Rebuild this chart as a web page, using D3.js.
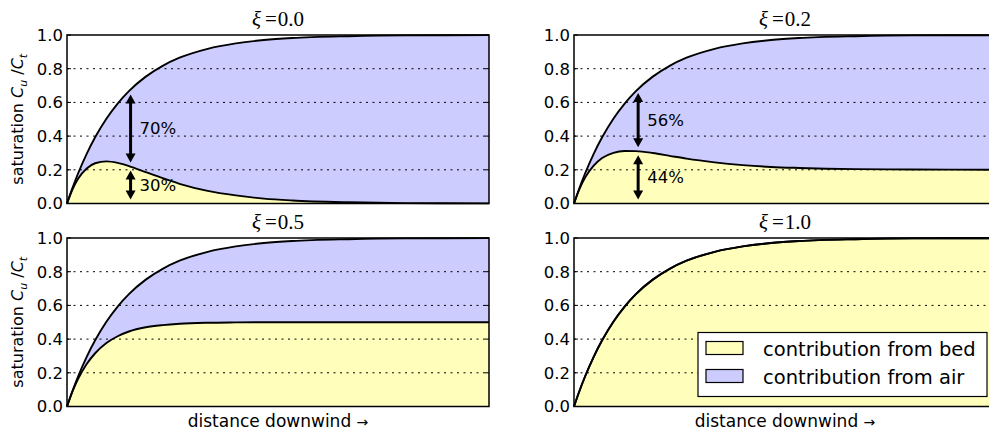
<!DOCTYPE html>
<html>
<head>
<meta charset="utf-8">
<script src="https://cdn.jsdelivr.net/npm/d3@7"></script>
<style>
  body { margin: 0; background: #fff; }
  text { font-family: "DejaVu Sans", sans-serif; fill: #000; }
</style>
</head>
<body>
<script>
// distance downwind (arbitrary units) and saturation
var dist     = [0, 0.1, 0.2, 0.35, 0.5, 0.7, 0.9, 1.1, 1.4, 1.7, 2.0, 2.5, 3.0, 3.5, 4.0, 5.0, 6.0, 7.5];
var totalSat = [0, 0.095, 0.181, 0.295, 0.393, 0.503, 0.593, 0.667, 0.753, 0.817, 0.865, 0.918, 0.950, 0.970, 0.982, 0.993, 0.998, 0.999];
var bedXi00  = [0, 0.086, 0.148, 0.208, 0.239, 0.250, 0.241, 0.222, 0.186, 0.150, 0.117, 0.075, 0.048, 0.029, 0.018, 0.007, 0.002, 0.001];
var bedXi02  = [0, 0.088, 0.155, 0.225, 0.270, 0.301, 0.312, 0.311, 0.300, 0.283, 0.266, 0.244, 0.228, 0.217, 0.211, 0.204, 0.202, 0.200];
var bedXi05  = [0, 0.091, 0.165, 0.252, 0.316, 0.377, 0.417, 0.445, 0.470, 0.483, 0.491, 0.497, 0.499, 0.500, 0.500, 0.500, 0.500, 0.500];
var bedXi10  = [0, 0.095, 0.181, 0.295, 0.393, 0.503, 0.593, 0.667, 0.753, 0.817, 0.865, 0.918, 0.950, 0.970, 0.982, 0.993, 0.998, 0.999];

var xiLabels = ["0.0", "0.2", "0.5", "1.0"];
var yTicks = [0, 0.2, 0.4, 0.6, 0.8, 1.0];
var legendLabels = ["contribution from bed", "contribution from air"];

// share arrows (only in the first two panels)
var arrowDist  = [1.13, 1.14];
var arrowTotal = [0.67, 0.68];
var arrowBed   = [0.22, 0.31];
var airShare   = ["70%", "56%"];
var bedShare   = ["30%", "44%"];

var bedColor = "#ffffbb", airColor = "#ccccff";

var W = 989, H = 433;
var axW = 422, axH = 168.5;
var colX = [67, 574], rowY = [35, 238];

var svg = d3.select("body").append("svg")
    .attr("width", W)
    .attr("height", H);

var beds = [bedXi00, bedXi02, bedXi05, bedXi10];

var x = d3.scaleLinear().domain([0, 7.5]).range([0, axW]);
var y = d3.scaleLinear().domain([0, 1]).range([axH, 0]);

var rows = dist.map(function(d, i) { return i; });

beds.forEach(function(bed, p) {
    var col = p % 2, row = Math.floor(p / 2);
    var g = svg.append("g")
        .attr("transform", "translate(" + colX[col] + "," + rowY[row] + ")");

    // yellow: bed contribution
    g.append("path")
        .datum(rows)
        .attr("d", d3.area()
            .x(function(i) { return x(dist[i]); })
            .y0(y(0))
            .y1(function(i) { return y(bed[i]); })
            .curve(d3.curveMonotoneX))
        .attr("fill", bedColor);

    // blue: air contribution
    g.append("path")
        .datum(rows)
        .attr("d", d3.area()
            .x(function(i) { return x(dist[i]); })
            .y0(function(i) { return y(bed[i]); })
            .y1(function(i) { return y(totalSat[i]); })
            .curve(d3.curveMonotoneX))
        .attr("fill", airColor);

    // dotted grid
    g.selectAll(".grid")
        .data(yTicks.slice(1, -1))
        .enter().append("line")
            .attr("x1", 0).attr("x2", axW)
            .attr("y1", function(d) { return y(d); })
            .attr("y2", function(d) { return y(d); })
            .attr("stroke", "#000")
            .attr("stroke-width", 1)
            .attr("stroke-dasharray", "2,4.5");

    var line = function(vals) {
        return d3.line()
            .x(function(i) { return x(dist[i]); })
            .y(function(i) { return y(vals[i]); })
            .curve(d3.curveMonotoneX)(rows);
    };
    g.append("path").attr("d", line(totalSat))
        .attr("fill", "none").attr("stroke", "#000").attr("stroke-width", 1.9);
    g.append("path").attr("d", line(bed))
        .attr("fill", "none").attr("stroke", "#000").attr("stroke-width", 1.9);

    // frame
    g.append("rect")
        .attr("width", axW).attr("height", axH)
        .attr("fill", "none").attr("stroke", "#000").attr("stroke-width", 1.5);

    // ticks inside, both sides
    yTicks.forEach(function(t) {
        g.append("line").attr("x1", 0).attr("x2", 4)
            .attr("y1", y(t)).attr("y2", y(t)).attr("stroke", "#000");
        g.append("line").attr("x1", axW - 4).attr("x2", axW)
            .attr("y1", y(t)).attr("y2", y(t)).attr("stroke", "#000");
        g.append("text")
            .attr("x", -4)
            .attr("y", y(t))
            .attr("dy", "0.36em")
            .attr("text-anchor", "end")
            .style("font-size", "16.5px")
            .text(t.toFixed(1));
    });

    // title
    var title = g.append("text")
        .attr("x", axW / 2)
        .attr("y", -9)
        .attr("text-anchor", "middle")
        .style("font-family", "'Liberation Serif', serif")
        .style("font-size", "21px");
    title.append("tspan").style("font-style", "italic").text("\u03BE");
    title.append("tspan").attr("dx", 4).text("=");
    title.append("tspan").attr("dx", 1).text(xiLabels[p]);

    // y label on the left column
    if (col === 0) {
        var yl = g.append("text")
            .attr("transform", "translate(" + (23 - colX[0]) + "," + (axH / 2) + ") rotate(-90)")
            .attr("text-anchor", "middle")
            .style("font-size", "16px");
        yl.append("tspan").text("saturation ");
        yl.append("tspan").style("font-style", "italic").text("C");
        yl.append("tspan").attr("dy", 4).style("font-size", "11px").style("font-style", "italic").text("u");
        yl.append("tspan").attr("dy", -4).text(" /");
        yl.append("tspan").style("font-style", "italic").text("C");
        yl.append("tspan").attr("dy", 4).style("font-size", "11px").style("font-style", "italic").text("t");
    }

    // x label on the bottom row
    if (row === 1) {
        var xl = g.append("text")
            .attr("x", axW / 2)
            .attr("y", axH + 20.5)
            .attr("text-anchor", "middle")
            .style("font-size", "17px");
        xl.append("tspan").text("distance downwind ");
        xl.append("tspan").style("font-size", "14px").text("\u2192");
    }

    // share arrows
    if (p < 2) {
        var ax = x(arrowDist[p]);
        drawArrow(g, ax, y(arrowBed[p]), y(arrowTotal[p]));
        drawArrow(g, ax, y(0), y(arrowBed[p]));
        g.append("text")
            .attr("x", ax + 9)
            .attr("y", y((arrowBed[p] + arrowTotal[p]) / 2))
            .attr("dy", "0.36em")
            .style("font-size", "16.5px")
            .text(airShare[p]);
        g.append("text")
            .attr("x", ax + 9)
            .attr("y", y(arrowBed[p] / 2))
            .attr("dy", "0.36em")
            .style("font-size", "16.5px")
            .text(bedShare[p]);
    }

    // legend in the last panel
    if (p === 3) {
        var lw = 289, lh = 64;
        var lg = g.append("g")
            .attr("transform", "translate(" + (axW - 9 - lw) + "," + (axH - 10 - lh) + ")");
        lg.append("rect")
            .attr("width", lw).attr("height", lh)
            .attr("fill", "#fff").attr("stroke", "#000").attr("stroke-width", 1.2);
        [bedColor, airColor].forEach(function(c, i) {
            lg.append("rect")
                .attr("x", 8).attr("y", 9 + i * 28)
                .attr("width", 37).attr("height", 13)
                .attr("fill", c).attr("stroke", "#000").attr("stroke-width", 1.2);
            lg.append("text")
                .attr("x", 65).attr("y", 23 + i * 28)
                .style("font-size", "19.5px")
                .text(legendLabels[i]);
        });
    }
});

function drawArrow(g, ax, yLow, yHigh) {
    var shrink = 4, head = 9, half = 5;
    var y1 = yLow - shrink, y2 = yHigh + shrink;
    g.append("line")
        .attr("x1", ax).attr("x2", ax)
        .attr("y1", y1 - head + 1).attr("y2", y2 + head - 1)
        .attr("stroke", "#000").attr("stroke-width", 3);
    g.append("path")
        .attr("d", "M" + ax + "," + y2 + "L" + (ax - half) + "," + (y2 + head) + "L" + (ax + half) + "," + (y2 + head) + "Z")
        .attr("fill", "#000");
    g.append("path")
        .attr("d", "M" + ax + "," + y1 + "L" + (ax - half) + "," + (y1 - head) + "L" + (ax + half) + "," + (y1 - head) + "Z")
        .attr("fill", "#000");
}
</script>
</body>
</html>
